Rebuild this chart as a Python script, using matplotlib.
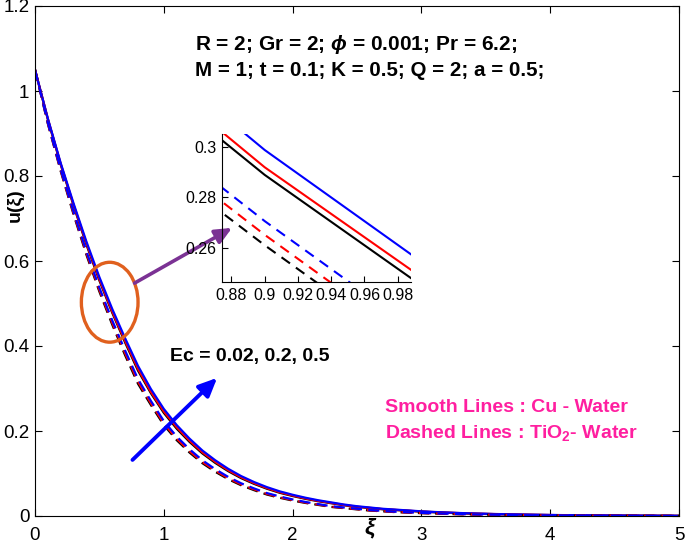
import numpy as np
import matplotlib
matplotlib.use("Agg")
import matplotlib.pyplot as plt
from matplotlib.patches import Ellipse, FancyArrowPatch
from matplotlib.ticker import FuncFormatter

plt.rcParams['font.family'] = ['Liberation Sans', 'DejaVu Sans']
plt.rcParams['mathtext.fontset'] = 'custom'
plt.rcParams['mathtext.rm'] = 'Liberation Sans:bold'
plt.rcParams['mathtext.it'] = 'Liberation Sans:italic:bold'
plt.rcParams['mathtext.bf'] = 'Liberation Sans:bold'

xi = [round(0.1 * i, 1) for i in range(51)]

# Cu - Water (solid lines)
cu_ec002 = [1.050, 0.933, 0.8265, 0.730, 0.638, 0.554, 0.478, 0.408, 0.342, 0.2889,
            0.2427, 0.2055, 0.1743, 0.1471, 0.1248, 0.1055, 0.0891, 0.0757, 0.0642, 0.0546,
            0.0470, 0.0403, 0.0347, 0.0300, 0.0252, 0.0214, 0.0186, 0.0158, 0.0140, 0.0121,
            0.0102, 0.0088, 0.0076, 0.0065, 0.0056, 0.0048, 0.0042, 0.0036, 0.0031, 0.0026,
            0.0022, 0.0019, 0.0017, 0.0014, 0.0012, 0.0010, 0.0009, 0.0007, 0.0006, 0.0005, 0.0004]
cu_ec02 = [1.050, 0.934, 0.828, 0.732, 0.641, 0.557, 0.481, 0.4115, 0.346, 0.2919,
           0.2460, 0.2088, 0.1773, 0.1498, 0.1273, 0.1077, 0.0911, 0.0774, 0.0657, 0.0560,
           0.0482, 0.0414, 0.0356, 0.0308, 0.0259, 0.0220, 0.0192, 0.0163, 0.0144, 0.0125,
           0.0106, 0.0092, 0.0079, 0.0068, 0.0058, 0.0050, 0.0043, 0.0037, 0.0032, 0.0027,
           0.0023, 0.0020, 0.0017, 0.0015, 0.0013, 0.0011, 0.0009, 0.0008, 0.0006, 0.0005, 0.0004]
cu_ec05 = [1.050, 0.935, 0.830, 0.735, 0.645, 0.562, 0.487, 0.418, 0.353, 0.2987,
           0.2520, 0.2140, 0.1820, 0.1540, 0.1310, 0.1110, 0.0940, 0.0800, 0.0680, 0.0580,
           0.0500, 0.0430, 0.0370, 0.0320, 0.0270, 0.0230, 0.0200, 0.0170, 0.0150, 0.0130,
           0.0110, 0.0095, 0.0082, 0.0070, 0.0060, 0.0052, 0.0045, 0.0038, 0.0033, 0.0028,
           0.0024, 0.0021, 0.0018, 0.0015, 0.0013, 0.0011, 0.0009, 0.0008, 0.0006, 0.0005, 0.0004]

# TiO2 - Water (dashed lines)
ti_ec002 = [1.050, 0.923, 0.811, 0.709, 0.614, 0.528, 0.450, 0.378, 0.311, 0.2612,
            0.2142, 0.1785, 0.1493, 0.1242, 0.1040, 0.0867, 0.0724, 0.0609, 0.0505, 0.0429,
            0.0363, 0.0307, 0.0260, 0.0213, 0.0184, 0.0156, 0.0128, 0.0110, 0.0091, 0.0079,
            0.0067, 0.0057, 0.0049, 0.0041, 0.0035, 0.0030, 0.0025, 0.0021, 0.0018, 0.0015,
            0.0013, 0.0011, 0.0010, 0.0008, 0.0007, 0.0006, 0.0005, 0.0004, 0.0004, 0.0003, 0.0002]
ti_ec02 = [1.050, 0.924, 0.813, 0.712, 0.618, 0.532, 0.4545, 0.383, 0.316, 0.2653,
           0.2180, 0.1820, 0.1525, 0.1270, 0.1066, 0.0890, 0.0744, 0.0628, 0.0521, 0.0443,
           0.0375, 0.0317, 0.0269, 0.0220, 0.0191, 0.0162, 0.0133, 0.0114, 0.0095, 0.0083,
           0.0070, 0.0060, 0.0051, 0.0043, 0.0037, 0.0031, 0.0026, 0.0022, 0.0019, 0.0016,
           0.0014, 0.0012, 0.0010, 0.0009, 0.0008, 0.0007, 0.0006, 0.0005, 0.0004, 0.0003, 0.0003]
ti_ec05 = [1.050, 0.925, 0.815, 0.715, 0.622, 0.537, 0.460, 0.389, 0.322, 0.2707,
           0.2235, 0.1870, 0.1570, 0.1310, 0.1100, 0.0920, 0.0770, 0.0650, 0.0540, 0.0460,
           0.0390, 0.0330, 0.0280, 0.0230, 0.0200, 0.0170, 0.0140, 0.0120, 0.0100, 0.0087,
           0.0074, 0.0063, 0.0054, 0.0046, 0.0039, 0.0033, 0.0028, 0.0024, 0.0020, 0.0017,
           0.0015, 0.0013, 0.0011, 0.0009, 0.0008, 0.0007, 0.0006, 0.0005, 0.0004, 0.0003, 0.0003]

series_colors = ['black', 'red', 'blue']
cu_series = [cu_ec002, cu_ec02, cu_ec05]
ti_series = [ti_ec002, ti_ec02, ti_ec05]

main_xticks = [0, 1, 2, 3, 4, 5]
main_yticks = [0, 0.2, 0.4, 0.6, 0.8, 1.0, 1.2]
inset_xticks = [0.88, 0.90, 0.92, 0.94, 0.96, 0.98]
inset_yticks = [0.26, 0.28, 0.30]

fmt = FuncFormatter(lambda v, p: ('%g' % round(v, 4)))

fig = plt.figure(figsize=(6.85, 5.48), dpi=100)
ax = fig.add_axes([35/685, 1-516/548, 644/685, 510/548])

for c, ys in zip(series_colors, cu_series):
    ax.plot(xi, ys, color=c, lw=1.6, solid_joinstyle='round')
for c, ys in zip(series_colors, ti_series):
    ax.plot(xi, ys, color=c, lw=1.6, ls=(0, (5, 2.8)))

ax.set_xlim(0, 5)
ax.set_ylim(0, 1.2)
ax.set_xticks(main_xticks)
ax.set_yticks(main_yticks)
ax.xaxis.set_major_formatter(fmt)
ax.yaxis.set_major_formatter(fmt)
ax.tick_params(direction='in', top=True, right=True, labelsize=13.5, length=5, width=0.8)
ax.tick_params(axis='x', pad=8)
ax.tick_params(axis='y', pad=4)
for s in ax.spines.values():
    s.set_linewidth(0.8)

fig.text(15/685, 1-205/548, 'u(ξ)', fontsize=14, fontweight='bold', rotation=90,
         ha='center', va='center')
fig.text(370/685, 1-527/548, 'ξ', fontsize=16.5, ha='center', va='center',
         fontstyle='italic', fontweight='bold')

fig.text(195/685, 1-44/548, r'R = 2; Gr = 2; $\phi$ = 0.001; Pr = 6.2;',
         fontsize=15, fontweight='bold', ha='left', va='center')
fig.text(195/685, 1-70/548, 'M = 1; t = 0.1; K = 0.5; Q = 2; a = 0.5;',
         fontsize=14.8, fontweight='bold', ha='left', va='center')
fig.text(170/685, 1-357/548, 'Ec = 0.02, 0.2, 0.5',
         fontsize=14, fontweight='bold', ha='left', va='center')
pink = '#FF1FA0'
fig.text(385/685, 1-408/548, 'Smooth Lines : Cu - Water',
         fontsize=14, fontweight='bold', ha='left', va='center', color=pink)
fig.text(385/685, 1-433/548, r'Dashed Lines : TiO$_2$- Water',
         fontsize=14, fontweight='bold', ha='left', va='center', color=pink)

ell = Ellipse((0.58, 0.503), 0.44, 0.188, fill=False, ec='#E0601E', lw=2.4, zorder=5)
ax.add_patch(ell)

purple = FancyArrowPatch((0.773, 0.548), (1.53, 0.678), arrowstyle='-|>,head_length=10,head_width=4.5',
                         color='#7B3294', lw=2.6, mutation_scale=1, zorder=6, shrinkA=0, shrinkB=0)
ax.add_patch(purple)
blue_arrow = FancyArrowPatch((0.757, 0.132), (1.414, 0.325), arrowstyle='-|>,head_length=11,head_width=5',
                             color='blue', lw=2.8, mutation_scale=1, zorder=6, shrinkA=0, shrinkB=0)
ax.add_patch(blue_arrow)

# inset
ins = fig.add_axes([222.3/685, 1-282.3/548, (411-222.3)/685, (282.3-134)/548])
for c, ys in zip(series_colors, cu_series):
    ins.plot(xi, ys, color=c, lw=1.5)
for c, ys in zip(series_colors, ti_series):
    ins.plot(xi, ys, color=c, lw=1.5, ls=(0, (5, 3.5)))
ins.set_xlim(0.8745, 0.988)
ins.set_ylim(0.2466, 0.305)
ins.set_xticks(inset_xticks)
ins.set_yticks(inset_yticks)
ins.xaxis.set_major_formatter(fmt)
ins.yaxis.set_major_formatter(fmt)
ins.spines['top'].set_visible(False)
ins.spines['right'].set_visible(False)
ins.tick_params(direction='in', labelsize=11.5, length=4, width=0.8, pad=4)
ins.patch.set_alpha(0)

fig.savefig('out.png', dpi=100)
